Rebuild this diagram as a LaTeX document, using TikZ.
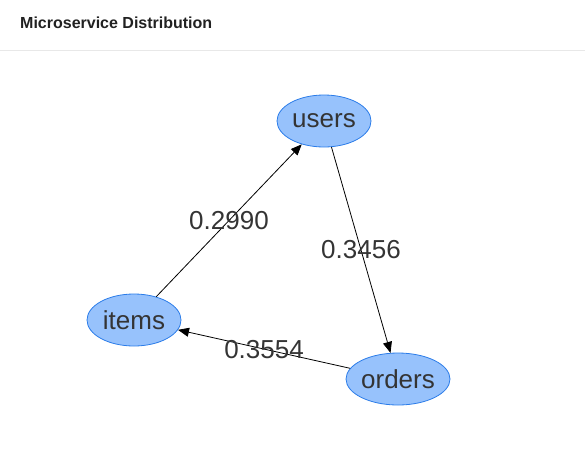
\documentclass[tikz,border=0pt]{standalone}
\usepackage{fontspec}
\setmainfont{Liberation Sans}
\usetikzlibrary{shapes.geometric,arrows.meta}
\definecolor{nodefill}{HTML}{97C2FC}
\definecolor{nodeborder}{HTML}{2B7CE9}
\definecolor{txt}{HTML}{343434}
\definecolor{sep}{HTML}{E8E8E8}
\tikzset{
  svc/.style={ellipse, draw=nodeborder, fill=nodefill, line width=0.8pt, inner sep=0pt,
    minimum height=52pt, text=txt, font=\fontsize{26}{30}\selectfont},
  conn/.style={draw=black, line width=0.8pt, -{Triangle[length=11pt,width=9pt]}},
  wlabel/.style={text=txt, font=\fontsize{26}{30}\selectfont, inner sep=0pt}
}
\begin{document}
\begin{tikzpicture}[x=1pt,y=-1pt]
\useasboundingbox (0,0) rectangle (585,461);
\node[anchor=base west, font=\fontsize{16}{19}\selectfont\bfseries, text=black!87, inner sep=0pt] (title) at (20,28) {Microservice Distribution};
\coordinate (sepL) at (0,50);
\coordinate (sepR) at (585,50);
\draw[sep, line width=1pt] (sepL) -- (sepR);
\node[svc, minimum width=94pt] (users) at (324,121) {\makebox[0pt]{users}};
\node[svc, minimum width=94pt] (items) at (134,320) {\makebox[0pt]{items}};
\node[svc, minimum width=104pt] (orders) at (398,379) {\makebox[0pt]{orders}};
\draw[conn] (items) -- node[wlabel] {0.2990} (users);
\draw[conn] (users) -- node[wlabel] {0.3456} (orders);
\draw[conn] (orders) -- node[wlabel] {0.3554} (items);
\end{tikzpicture}
\end{document}
